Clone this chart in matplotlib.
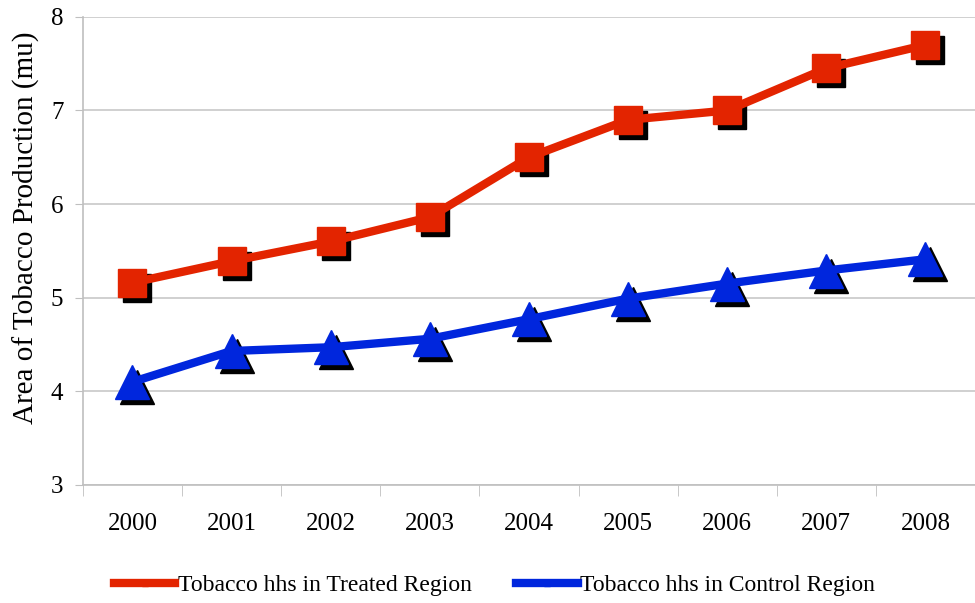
import numpy as np
import matplotlib
matplotlib.use('Agg')
import matplotlib.pyplot as plt
import matplotlib.transforms as mtransforms
from matplotlib.lines import Line2D

plt.rcParams['font.family'] = ['Liberation Serif', 'DejaVu Serif']

years = ['2000', '2001', '2002', '2003', '2004', '2005', '2006', '2007', '2008']
treated = [5.16, 5.39, 5.60, 5.86, 6.50, 6.90, 7.00, 7.45, 7.70]
control = [4.10, 4.43, 4.47, 4.56, 4.77, 4.99, 5.15, 5.29, 5.41]

red = '#E32400'
blue = '#0026DD'

fig = plt.figure(figsize=(9.75, 6.03), dpi=100)
ax = fig.add_axes([0.085, 0.196, 0.915, 0.776])

x = np.arange(len(years))
shadow = ax.transData + mtransforms.ScaledTranslation(5 / 100, -5 / 100, fig.dpi_scale_trans)

ax.plot(x, treated, 's', color='black', markersize=20, transform=shadow, zorder=3)
ax.plot(x, control, '^', color='black', markersize=24, transform=shadow, zorder=3)
ax.plot(x, treated, '-', color=red, linewidth=6, zorder=4)
ax.plot(x, control, '-', color=blue, linewidth=6, zorder=4)
ax.plot(x, treated, 's', color=red, markersize=20, zorder=5)
ax.plot(x, control, '^', color=blue, markersize=24, zorder=5)

ax.set_xlim(-0.5, 8.42)
ax.set_ylim(3, 8)
ax.set_yticks(range(3, 9))
ax.set_xticks(x)
ax.set_xticklabels(years)
ax.set_xticks(np.arange(-0.5, 9, 1), minor=True)
ax.tick_params(axis='x', which='major', length=0, pad=20, labelsize=18)
ax.tick_params(axis='x', which='minor', length=8, color='#BFBFBF', direction='out')
ax.tick_params(axis='y', length=6, color='#BFBFBF', labelsize=18, pad=8)
ax.grid(axis='y', color='#C8C8C8', linewidth=1.2)
ax.set_axisbelow(True)
for side in ['top', 'right']:
    ax.spines[side].set_visible(False)
for side in ['left', 'bottom']:
    ax.spines[side].set_color('#BFBFBF')
    ax.spines[side].set_linewidth(1.2)
ax.set_ylabel('Area of Tobacco Production (mu)', fontsize=21)
ax.yaxis.set_label_coords(-0.048, 0.549)

handles = [Line2D([], [], color=red, linewidth=6, marker='s', markersize=5),
           Line2D([], [], color=blue, linewidth=6, marker='^', markersize=5)]
fig.legend(handles, ['Tobacco hhs in Treated Region', 'Tobacco hhs in Control Region'],
           loc='center', bbox_to_anchor=(0.5 + 7 / 975, 1 - 585 / 603), ncol=2, frameon=False,
           fontsize=17, handlelength=2.6, handletextpad=0.1, columnspacing=1.9)

fig.savefig('out.png', dpi=100)
